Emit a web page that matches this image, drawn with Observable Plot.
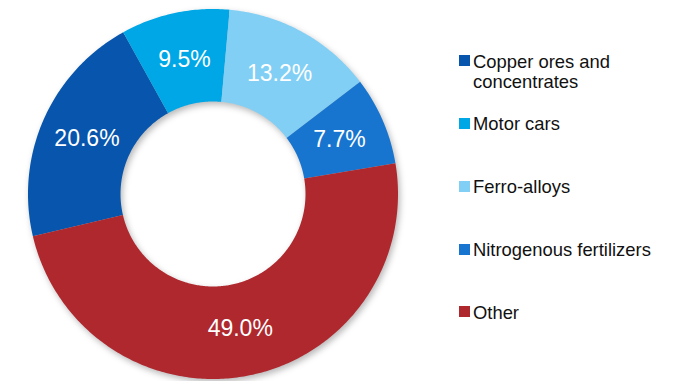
<!DOCTYPE html>
<html>
<head>
<meta charset="utf-8">
<script src="https://cdn.jsdelivr.net/npm/d3@7"></script>
<script src="https://cdn.jsdelivr.net/npm/@observablehq/plot@0.6"></script>
<style>
  html, body { margin: 0; padding: 0; background: #fff; }
  #wrap { position: relative; width: 674px; height: 381px; font-family: "Liberation Sans", Arial, sans-serif; }
  #wrap svg g[aria-label="geo"] { filter: drop-shadow(2px 3px 3px rgba(0,0,0,0.28)); }
  .leg { position: absolute; left: 459px; font-size: 18.4px; line-height: 20px; color: #111; }
  .leg .sw { position: absolute; left: 0; width: 11px; height: 11px; }
  .leg .tx { position: absolute; left: 14px; white-space: nowrap; }
</style>
</head>
<body>
<div id="wrap"></div>
<script>
const categories = ["Copper ores and concentrates", "Motor cars", "Ferro-alloys", "Nitrogenous fertilizers", "Other"];
const legendLines = [["Copper ores and", "concentrates"], ["Motor cars"], ["Ferro-alloys"], ["Nitrogenous fertilizers"], ["Other"]];
const values = [20.6, 9.5, 13.2, 7.7, 49.0];
const colors = ["#0755ad", "#00a7e6", "#82cff5", "#1775d0", "#ae282e"];

const startDeg = -103.2;
const inner = 0.5;
const labelR = 0.745;
const total = d3.sum(values);

const slices = [];
const labels = [];
let acc = 0;
values.forEach((v, i) => {
  const a0 = (startDeg + acc / total * 360) * Math.PI / 180;
  acc += v;
  const a1 = (startDeg + acc / total * 360) * Math.PI / 180;
  const n = Math.max(8, Math.ceil((a1 - a0) * 80));
  const ring = [];
  for (let k = 0; k <= n; k++) {
    const a = a0 + (a1 - a0) * k / n;
    ring.push([Math.sin(a), -Math.cos(a)]);
  }
  for (let k = n; k >= 0; k--) {
    const a = a0 + (a1 - a0) * k / n;
    ring.push([inner * Math.sin(a), -inner * Math.cos(a)]);
  }
  ring.push(ring[0]);
  slices.push({type: "Feature", properties: {name: categories[i], color: colors[i]}, geometry: {type: "Polygon", coordinates: [ring]}});
  const am = (a0 + a1) / 2;
  labels.push({x: labelR * Math.sin(am), y: -labelR * Math.cos(am), text: v.toFixed(1) + "%"});
});

const chart = Plot.plot({
  width: 674,
  height: 381,
  margin: 0,
  projection: d3.geoIdentity().scale(185).translate([212.5, 193.5]),
  marks: [
    Plot.geo(slices, {fill: d => d.properties.color, stroke: "none"}),
    Plot.text(labels, {x: "x", y: "y", text: "text", fill: "white", fontSize: 23, fontFamily: "Liberation Sans, Arial, sans-serif"})
  ]
});
chart.style.fontFamily = "Liberation Sans, Arial, sans-serif";
const wrap = document.getElementById("wrap");
wrap.appendChild(chart);

// legend
const baselines = [66.7, 129.3, 192.3, 255, 317.7];
categories.forEach((c, i) => {
  const item = document.createElement("div");
  item.className = "leg";
  item.style.top = (baselines[i] - 15) + "px";
  const sw = document.createElement("div");
  sw.className = "sw";
  sw.style.background = colors[i];
  sw.style.top = "3.5px";
  item.appendChild(sw);
  const tx = document.createElement("div");
  tx.className = "tx";
  tx.innerHTML = legendLines[i].join("<br>");
  item.appendChild(tx);
  wrap.appendChild(item);
});
</script>
</body>
</html>
